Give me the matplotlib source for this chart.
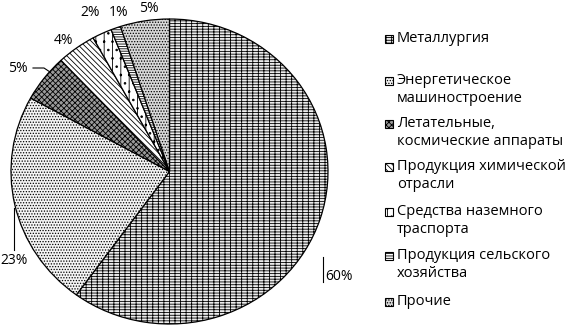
import matplotlib.pyplot as plt
from matplotlib.patches import Rectangle

plt.rcParams['font.family'] = ['Open Sans', 'DejaVu Sans']
plt.rcParams['hatch.linewidth'] = 0.6

categories = ['Металлургия', 'Энергетическое\nмашиностроение',
              'Летательные,\nкосмические аппараты', 'Продукция химической\nотрасли',
              'Средства наземного\nтраспорта', 'Продукция сельского\nхозяйства', 'Прочие']
shares = [60, 23, 5, 4, 2, 1, 5]
labels = ['60%', '23%', '5%', '4%', '2%', '1%', '5%']

faces = ['#ececec', '#f4f4f4', '#9a9a9a', 'white', 'white', 'white', '#d8d8d8']
hatches = ['------|||', '......', 'xxxxxx', '\\\\\\\\\\\\', '..||', '-------', '......']

W, H = 566, 325
fig = plt.figure(figsize=(W / 100, H / 100), dpi=100)
# pie is slightly elliptic in the original
ax = fig.add_axes([11 / W, 1 / H, 317 / W, 305 / H])
wedges, _ = ax.pie(shares, startangle=90, counterclock=False,
                   colors=faces, wedgeprops=dict(edgecolor='black', linewidth=0.9))
for w, h in zip(wedges, hatches):
    w.set_hatch(h)
ax.set_aspect('auto')
ax.set_xlim(-1, 1)
ax.set_ylim(-1, 1)
ax.axis('off')

# percentage labels (figure pixel positions, y from top)
lab_pos = [(339, 277), (14, 260), (18, 68), (63, 41), (90, 13), (119, 13), (149, 8)]
for t, (x, y) in zip(labels, lab_pos):
    fig.text(x / W, 1 - y / H, t, fontsize=10, ha='center', va='center')

# leader lines
fig.add_artist(plt.Line2D([323 / W, 323 / W], [1 - 257 / H, 1 - 282 / H], color='black', lw=0.8))
fig.add_artist(plt.Line2D([14 / W, 14 / W], [1 - 208 / H, 1 - 250 / H], color='black', lw=0.8))
fig.add_artist(plt.Line2D([33 / W, 44 / W, 50 / W], [1 - 68 / H, 1 - 68 / H, 1 - 72 / H],
                          color='black', lw=0.8))

# legend
leg_y = [39, 81, 124, 167, 212, 256, 302]
for name, y, f, h in zip(categories, leg_y, faces, hatches):
    fig.add_artist(Rectangle((385 / W, 1 - (y + 4) / H), 8 / W, 8 / H,
                             facecolor=f, edgecolor='black', hatch=h, lw=0.8,
                             transform=fig.transFigure))
    fig.text(397 / W, 1 - (y - 8) / H, name, fontsize=10.5, ha='left', va='top',
             linespacing=1.3)

fig.savefig('out.png', dpi=100)
